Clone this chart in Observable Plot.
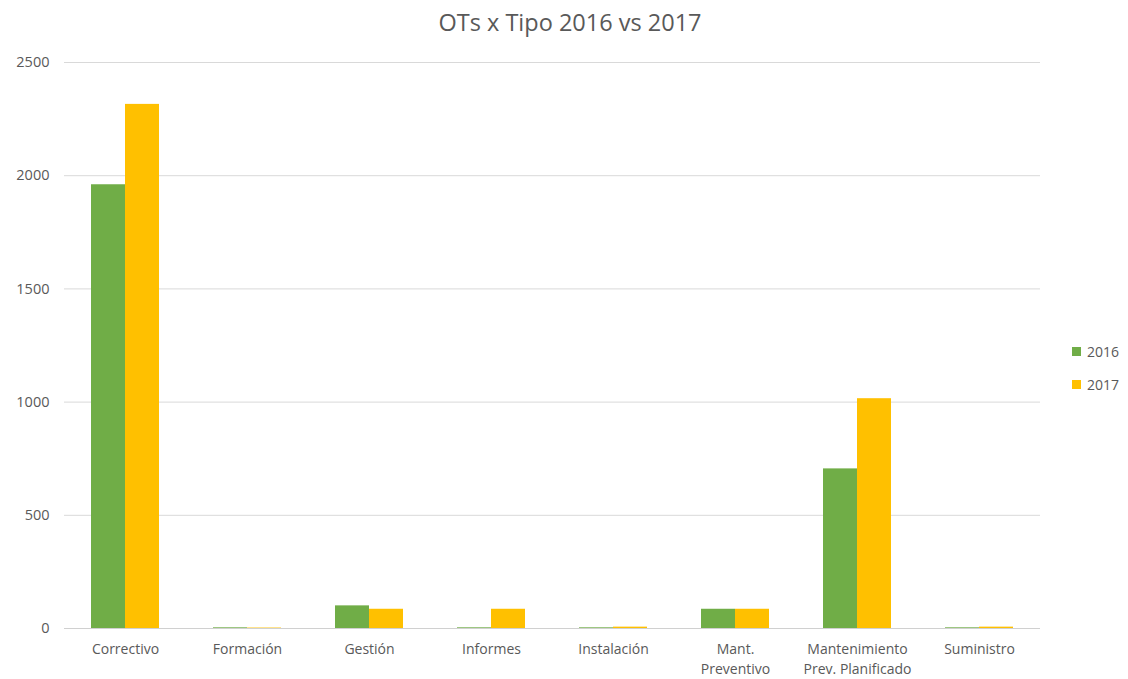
<!DOCTYPE html>
<html>
<head>
<meta charset="utf-8">
<script src="https://cdn.jsdelivr.net/npm/d3@7"></script>
<script src="https://cdn.jsdelivr.net/npm/@observablehq/plot@0.6"></script>
<style>
  body { margin: 0; background: #fff; font-family: "Open Sans", sans-serif; }
  #wrap { position: relative; width: 1128px; height: 679px; }
  #title { position: absolute; top: 5px; left: 0; width: 1140px; text-align: center; font-size: 23.5px; line-height: 34px; color: #595959; }
  #chart { position: absolute; top: 40px; left: 0; }
  .leg { position: absolute; left: 1072px; font-size: 14px; color: #595959; display: flex; align-items: center; }
  .sw { width: 9px; height: 9px; margin-right: 6px; }
</style>
</head>
<body>
<div id="wrap">
  <div id="title">OTs x Tipo 2016 vs 2017</div>
  <div id="chart"></div>
  <div class="leg" style="top:342px"><div class="sw" style="background:#70AD47"></div>2016</div>
  <div class="leg" style="top:375px"><div class="sw" style="background:#FFC000"></div>2017</div>
</div>
<script>
const categories = ["Correctivo", "Formación", "Gestión", "Informes", "Instalación", "Mant.\nPreventivo", "Mantenimiento\nPrev. Planificado", "Suministro"];
const series = ["2016", "2017"];
const v2016 = [1960, 3, 100, 3, 3, 85, 705, 3];
const v2017 = [2315, 2, 85, 85, 6, 85, 1015, 6];
const yTicks = [0, 500, 1000, 1500, 2000, 2500];
const colors = ["#70AD47", "#FFC000"];

const data = categories.flatMap((c, i) => [
  {cat: c, year: "2016", value: v2016[i]},
  {cat: c, year: "2017", value: v2017[i]}
]);

const chart = Plot.plot({
  width: 1128,
  height: 639,
  marginTop: 22,
  marginBottom: 51,
  marginLeft: 62,
  marginRight: 86,
  style: {fontFamily: "Open Sans, sans-serif", fontSize: "14px", color: "#595959", background: "transparent"},
  fx: {domain: categories, paddingInner: 0, paddingOuter: 0, label: null, axis: null},
  x: {domain: series, paddingInner: 0, paddingOuter: 0.75, axis: null},
  y: {domain: [0, 2500], label: null, axis: null},
  color: {domain: series, range: colors},
  marks: [
    Plot.gridY(yTicks, {stroke: "#d9d9d9", strokeOpacity: 1, strokeWidth: 1}),
    Plot.axisY({ticks: yTicks, tickSize: 0, tickPadding: 15, label: null, fill: "#595959", fontSize: 14.5, tickFormat: d => String(d)}),
    Plot.axisFx({anchor: "bottom", tickSize: 0, tickPadding: 12, label: null, lineHeight: 1.4, fill: "#595959"}),
    Plot.barY(data, {fx: "cat", x: "year", y: "value", fill: "year"}),
    Plot.ruleY([0], {stroke: "#d0d0d0"})
  ]
});
document.getElementById("chart").appendChild(chart);
</script>
</body>
</html>
